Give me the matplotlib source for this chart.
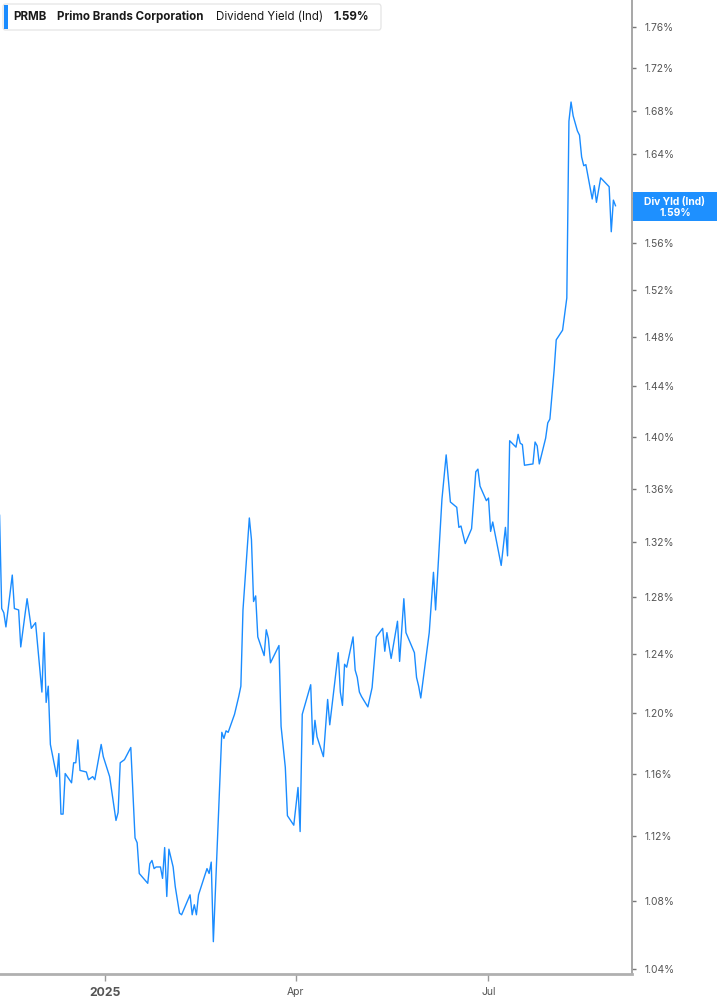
import matplotlib
matplotlib.use("Agg")
import matplotlib.pyplot as plt
import pandas as pd
from matplotlib.patches import Rectangle, FancyBboxPatch
from matplotlib.ticker import FixedLocator, FuncFormatter, NullLocator

plt.rcParams['font.family'] = ['Inter', 'DejaVu Sans']

# ---------------- data ----------------
dates = [
    "2024-11-12", "2024-11-13", "2024-11-14", "2024-11-15", "2024-11-18", "2024-11-19",
    "2024-11-21", "2024-11-22", "2024-11-25", "2024-11-27", "2024-11-29", "2024-12-02",
    "2024-12-03", "2024-12-04", "2024-12-05", "2024-12-06", "2024-12-09", "2024-12-10",
    "2024-12-11", "2024-12-12", "2024-12-13", "2024-12-16", "2024-12-17", "2024-12-18",
    "2024-12-19", "2024-12-20", "2024-12-23", "2024-12-24", "2024-12-26", "2024-12-27",
    "2024-12-30", "2024-12-31", "2025-01-03", "2025-01-06", "2025-01-07", "2025-01-08",
    "2025-01-10", "2025-01-13", "2025-01-15", "2025-01-16", "2025-01-17", "2025-01-21",
    "2025-01-22", "2025-01-23", "2025-01-24", "2025-01-25", "2025-01-27", "2025-01-28",
    "2025-01-29", "2025-01-30", "2025-01-31", "2025-02-02", "2025-02-03", "2025-02-05",
    "2025-02-06", "2025-02-08", "2025-02-10", "2025-02-11", "2025-02-12", "2025-02-13",
    "2025-02-14", "2025-02-18", "2025-02-19", "2025-02-20", "2025-02-21", "2025-02-25",
    "2025-02-26", "2025-02-27", "2025-02-28", "2025-03-03", "2025-03-05", "2025-03-06",
    "2025-03-07", "2025-03-10", "2025-03-11", "2025-03-12", "2025-03-13", "2025-03-14",
    "2025-03-17", "2025-03-18", "2025-03-19", "2025-03-20", "2025-03-24", "2025-03-25",
    "2025-03-27", "2025-03-28", "2025-03-31", "2025-04-02", "2025-04-03", "2025-04-04",
    "2025-04-08", "2025-04-09", "2025-04-10", "2025-04-11", "2025-04-14", "2025-04-16",
    "2025-04-17", "2025-04-21", "2025-04-22", "2025-04-23", "2025-04-24", "2025-04-25",
    "2025-04-28", "2025-04-29", "2025-04-30", "2025-05-01", "2025-05-02", "2025-05-05",
    "2025-05-07", "2025-05-09", "2025-05-12", "2025-05-13", "2025-05-14", "2025-05-16",
    "2025-05-19", "2025-05-20", "2025-05-22", "2025-05-23", "2025-05-27", "2025-05-28",
    "2025-05-29", "2025-05-30", "2025-06-03", "2025-06-05", "2025-06-06", "2025-06-09",
    "2025-06-11", "2025-06-13", "2025-06-16", "2025-06-17", "2025-06-18", "2025-06-20",
    "2025-06-23", "2025-06-25", "2025-06-26", "2025-06-27", "2025-06-30", "2025-07-01",
    "2025-07-02", "2025-07-03", "2025-07-07", "2025-07-09", "2025-07-10", "2025-07-11",
    "2025-07-14", "2025-07-15", "2025-07-16", "2025-07-17", "2025-07-18", "2025-07-22",
    "2025-07-23", "2025-07-24", "2025-07-25", "2025-07-28", "2025-07-29", "2025-07-30",
    "2025-07-31", "2025-08-01", "2025-08-02", "2025-08-05", "2025-08-07", "2025-08-08",
    "2025-08-09", "2025-08-10", "2025-08-12", "2025-08-13", "2025-08-14", "2025-08-15",
    "2025-08-16", "2025-08-19", "2025-08-20", "2025-08-21", "2025-08-23", "2025-08-25",
    "2025-08-27", "2025-08-28", "2025-08-29", "2025-08-30",
]
div_yield = [
    1.340, 1.272, 1.269, 1.259, 1.296, 1.272,
    1.271, 1.245, 1.279, 1.258, 1.262, 1.214,
    1.255, 1.207, 1.218, 1.179, 1.158, 1.173,
    1.134, 1.134, 1.160, 1.154, 1.167, 1.167,
    1.182, 1.162, 1.161, 1.156, 1.158, 1.156,
    1.179, 1.171, 1.158, 1.130, 1.135, 1.167,
    1.169, 1.177, 1.119, 1.116, 1.097, 1.091,
    1.103, 1.105, 1.100, 1.101, 1.101, 1.094,
    1.113, 1.083, 1.112, 1.101, 1.089, 1.073,
    1.072, 1.078, 1.084, 1.072, 1.078, 1.072,
    1.084, 1.100, 1.097, 1.104, 1.056, 1.187,
    1.183, 1.188, 1.187, 1.199, 1.211, 1.218,
    1.271, 1.338, 1.322, 1.277, 1.281, 1.252,
    1.239, 1.257, 1.251, 1.234, 1.246, 1.191,
    1.164, 1.133, 1.127, 1.151, 1.123, 1.199,
    1.219, 1.179, 1.195, 1.184, 1.171, 1.209,
    1.192, 1.241, 1.214, 1.205, 1.233, 1.231,
    1.252, 1.229, 1.224, 1.214, 1.211, 1.204,
    1.217, 1.252, 1.258, 1.242, 1.255, 1.237,
    1.263, 1.235, 1.279, 1.255, 1.241, 1.224,
    1.218, 1.210, 1.255, 1.298, 1.271, 1.352,
    1.386, 1.350, 1.346, 1.331, 1.332, 1.319,
    1.330, 1.373, 1.375, 1.362, 1.351, 1.353,
    1.328, 1.335, 1.303, 1.331, 1.310, 1.397,
    1.392, 1.402, 1.395, 1.394, 1.378, 1.379,
    1.396, 1.393, 1.379, 1.399, 1.411, 1.414,
    1.433, 1.453, 1.478, 1.486, 1.513, 1.670,
    1.688, 1.675, 1.661, 1.657, 1.637, 1.629,
    1.630, 1.599, 1.611, 1.596, 1.618, 1.614,
    1.610, 1.570, 1.598, 1.593,
]
y_ticks = [1.04, 1.08, 1.12, 1.16, 1.20, 1.24, 1.28, 1.32, 1.36, 1.40,
           1.44, 1.48, 1.52, 1.56, 1.60, 1.64, 1.68, 1.72, 1.76]
hidden_tick = 1.60   # label covered by the last-value tag
x_tick_dates = ["2025-01-01", "2025-04-01", "2025-07-01"]
x_tick_labels = ["2025", "Apr", "Jul"]
ticker_name = "PRMB"
company = "Primo Brands Corporation"
metric = "Dividend Yield (Ind)"
last_label = "1.59%"
tag_title = "Div Yld (Ind)"

# ---------------- layout ----------------
W, H = 717, 1005
LINE = '#1a8cff'
fig = plt.figure(figsize=(W / 100, H / 100), dpi=100)
fig.patch.set_facecolor('white')
ax = fig.add_axes([0, 31 / H, 632 / W, 974 / H])

x = pd.to_datetime(dates)
ax.plot(x, div_yield, color=LINE, lw=1.0, solid_joinstyle='round')

ax.set_yscale('log')
ax.set_ylim(1.0371, 1.787)
ax.yaxis.set_major_locator(FixedLocator(y_ticks))
ax.yaxis.set_minor_locator(NullLocator())
ax.yaxis.set_major_formatter(
    FuncFormatter(lambda v, p: "" if abs(v - hidden_tick) < 1e-9 else f"{v:.2f}%"))
ax.yaxis.tick_right()
ax.tick_params(axis='y', which='major', length=3, width=1, color='#777777',
               pad=6, labelsize=7.4, labelcolor='#555555')

base = pd.Timestamp("2025-01-01")
ax.set_xlim(base - pd.Timedelta(days=49.8), base + pd.Timedelta(days=248.8))
ax.set_xticks(pd.to_datetime(x_tick_dates))
ax.set_xticklabels(x_tick_labels)
ax.xaxis.set_minor_locator(NullLocator())
ax.tick_params(axis='x', which='major', length=5, width=1, color='#999999',
               pad=4, labelsize=7.5, labelcolor='#555555')
for lab in ax.get_xticklabels():
    if lab.get_text() == "2025":
        lab.set_fontweight('bold')
        lab.set_fontsize(8.8)

for s in ['left', 'top']:
    ax.spines[s].set_visible(False)
ax.spines['right'].set_color('#a0a0a0')
ax.spines['right'].set_linewidth(1.3)
ax.spines['bottom'].set_color('#b0b0b0')
ax.spines['bottom'].set_linewidth(2.0)
ax.grid(False)


def fx(px):
    return px / W


def fy(py):
    return 1 - py / H


# legend box top-left
fig.patches.append(FancyBboxPatch((fx(3), fy(30)), fx(378), 26 / H,
                                  boxstyle='round,pad=0,rounding_size=0.003',
                                  transform=fig.transFigure, fc='white',
                                  ec='#e2e2e2', lw=0.8, zorder=5))
fig.patches.append(Rectangle((fx(4), fy(29)), fx(3.5), 24 / H, transform=fig.transFigure,
                             fc=LINE, ec='none', zorder=6))
ty = fy(16.5)
fig.text(fx(13), ty, ticker_name, fontsize=8.3, fontweight='bold', color='#1a1a1a',
         va='center', ha='left', zorder=7)
fig.text(fx(57), ty, company, fontsize=8.3, fontweight='bold', color='#1a1a1a',
         va='center', ha='left', zorder=7)
fig.text(fx(216), ty, metric, fontsize=8.3, color='#1a1a1a',
         va='center', ha='left', zorder=7)
fig.text(fx(333), ty, last_label, fontsize=8.3, fontweight='bold', color='#1a1a1a',
         va='center', ha='left', zorder=7)

# last value tag on the right axis
fig.patches.append(Rectangle((fx(632.5), fy(221.5)), fx(717 - 632.5), 29.5 / H,
                             transform=fig.transFigure, fc='#1e90ff', ec='none', zorder=8))
fig.text(fx(675), fy(201.5), tag_title, fontsize=7.4, fontweight='bold', color='white',
         va='center', ha='center', zorder=9)
fig.text(fx(675), fy(212.5), last_label, fontsize=7.4, fontweight='bold', color='white',
         va='center', ha='center', zorder=9)

fig.savefig("out.png", dpi=100, facecolor='white')
